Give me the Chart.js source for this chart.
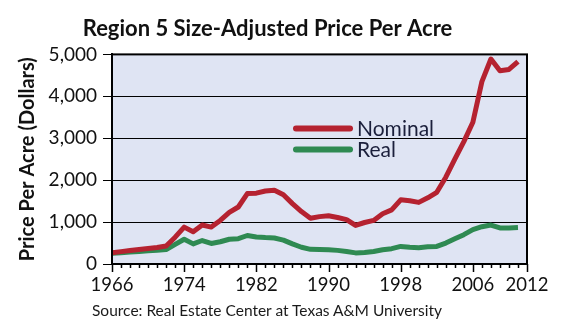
<!DOCTYPE html>
<html>
<head>
<meta charset="utf-8">
<title>Region 5 Size-Adjusted Price Per Acre</title>
<script src="https://cdn.jsdelivr.net/npm/chart.js@4.4.1/dist/chart.umd.min.js"></script>
<style>
  html, body { margin: 0; padding: 0; background: #fff; }
  #wrap { position: relative; width: 561px; height: 327px; }
  #source {
    position: absolute; left: 92px; top: 301px;
    font: 15.5px Lato, sans-serif; color: #1a1a1a; white-space: nowrap;
  }
</style>
</head>
<body>
<div id="wrap">
  <canvas id="priceChart" width="561" height="327"></canvas>
  <div id="source">Source: Real Estate Center at Texas A&amp;M University</div>
</div>
<script>
'use strict';

/* ── Data ─────────────────────────────────── */
const YEARS = [
  1966, 1967, 1968, 1969, 1970, 1971, 1972, 1973, 1974, 1975,
  1976, 1977, 1978, 1979, 1980, 1981, 1982, 1983, 1984, 1985,
  1986, 1987, 1988, 1989, 1990, 1991, 1992, 1993, 1994, 1995,
  1996, 1997, 1998, 1999, 2000, 2001, 2002, 2003, 2004, 2005,
  2006, 2007, 2008, 2009, 2010, 2011,
];

// Nominal dollars per acre
const NOMINAL = [
  265, 295, 320, 345, 370, 395, 430, 640, 880, 770,
  930, 880, 1040, 1230, 1360, 1680, 1690, 1740, 1760, 1650,
  1440, 1250, 1090, 1130, 1150, 1110, 1060, 920, 990, 1040,
  1200, 1290, 1530, 1510, 1470, 1580, 1710, 2070, 2500, 2920,
  3380, 4350, 4890, 4610, 4640, 4830,
];

// Real (inflation-adjusted) dollars per acre
const REAL = [
  255, 270, 285, 300, 315, 330, 345, 470, 590, 480,
  560, 490, 530, 590, 605, 680, 645, 630, 620, 570,
  480, 400, 350, 345, 340, 325, 300, 265, 275, 300,
  340, 365, 420, 400, 390, 410, 420, 500, 600, 700,
  820, 890, 930, 860, 860, 870,
];

const X_LABEL_YEARS = [1966, 1974, 1982, 1990, 1998, 2006, 2012];

const SERIES = [
  { label: 'Nominal', values: NOMINAL, color: '#b52230' },
  { label: 'Real',    values: REAL,    color: '#2f8a52' },
];

const FONT = 'Lato, sans-serif';
const INK  = '#111111';

/* ── Plugins ──────────────────────────────── */
const plotBackground = {
  id: 'plotBackground',
  beforeDraw(chart) {
    const { ctx, chartArea: a } = chart;
    ctx.save();
    ctx.fillStyle = '#dfe4f3';
    ctx.fillRect(a.left, a.top, a.right - a.left, a.bottom - a.top);
    ctx.restore();
  },
};

// frame round the plot plus yearly tick marks (longer at labelled years)
const frameAndTicks = {
  id: 'frameAndTicks',
  afterDraw(chart) {
    const { ctx, chartArea: a, scales: { x } } = chart;
    ctx.save();
    ctx.strokeStyle = '#000';
    ctx.lineWidth = 2;
    ctx.strokeRect(a.left, a.top, a.right - a.left, a.bottom - a.top);
    ctx.lineWidth = 1.5;
    ctx.beginPath();
    for (let yr = x.min; yr <= x.max; yr++) {
      const px = Math.round(x.getPixelForValue(yr)) + 0.5;
      const len = X_LABEL_YEARS.includes(yr) ? 8 : 4;
      ctx.moveTo(px, a.bottom);
      ctx.lineTo(px, a.bottom + len);
    }
    ctx.stroke();
    ctx.restore();
  },
};

const inlineLegend = {
  id: 'inlineLegend',
  afterDatasetsDraw(chart) {
    const { ctx, chartArea: a } = chart;
    const x0 = a.left + 184, y0 = a.top + 74, gap = 21;
    ctx.save();
    ctx.font = `21px ${FONT}`;
    ctx.textBaseline = 'middle';
    SERIES.forEach((s, i) => {
      const y = y0 + i * gap;
      ctx.strokeStyle = s.color;
      ctx.lineWidth = 6;
      ctx.lineCap = 'round';
      ctx.beginPath();
      ctx.moveTo(x0, y);
      ctx.lineTo(x0 + 54, y);
      ctx.stroke();
      ctx.fillStyle = '#1b1f3b';
      ctx.fillText(s.label, x0 + 61, y + 1);
    });
    ctx.restore();
  },
};

/* ── Chart ────────────────────────────────── */
function initPriceChart() {
  const canvas = document.getElementById('priceChart');

  new Chart(canvas.getContext('2d'), {
    type: 'line',
    data: {
      datasets: SERIES.map(s => ({
        label          : s.label,
        data           : YEARS.map((yr, i) => ({ x: yr, y: s.values[i] })),
        borderColor    : s.color,
        borderWidth    : 5,
        borderJoinStyle: 'round',
        pointRadius    : 0,
        tension        : 0,
      })),
    },
    plugins: [plotBackground, inlineLegend, frameAndTicks],
    options: {
      responsive: false,
      animation : false,
      layout: { padding: { left: 8, right: 34, top: 8, bottom: 23 } },
      plugins: {
        legend : { display: false },
        tooltip: { enabled: false },
        title: {
          display: true,
          text   : 'Region 5 Size-Adjusted Price Per Acre',
          color  : INK,
          font   : { family: FONT, size: 22, weight: 'bold' },
          padding: { top: 8, bottom: 12 },
        },
      },
      scales: {
        x: {
          type: 'linear',
          min : 1966,
          max : 2012,
          afterBuildTicks: scale => { scale.ticks = X_LABEL_YEARS.map(v => ({ value: v })); },
          afterFit: scale => { scale.height = 40; },
          grid: {
            drawOnChartArea: false,
            drawTicks      : true,
            tickLength     : 8,
            tickColor      : 'rgba(0,0,0,0)',
          },
          border: { display: false },
          ticks: {
            autoSkip   : false,
            maxRotation: 0,
            padding    : 2,
            color      : INK,
            font       : { family: FONT, size: 18.5 },
            callback   : v => String(v),
          },
        },
        y: {
          min: 0,
          max: 5000,
          afterFit: scale => { scale.width = 104; },
          grid: {
            color     : c => (c.tick.value % 1000 === 0 ? '#000' : '#9c9c9c'),
            lineWidth : 1,
            tickLength: 9,
            tickColor : c => (c.tick.value % 1000 === 0 ? '#000' : 'rgba(0,0,0,0)'),
          },
          border: { display: true, color: '#000', width: 2 },
          ticks: {
            stepSize: 500,
            padding : 6,
            color   : INK,
            font    : { family: FONT, size: 19 },
            callback: v => (v % 1000 === 0 ? v.toLocaleString('en-US') : ''),
          },
          title: {
            display: true,
            text   : 'Price Per Acre (Dollars)',
            color  : INK,
            font   : { family: FONT, size: 20, weight: 'bold' },
            padding: { top: 8, bottom: 0 },
          },
        },
      },
    },
  });
}

initPriceChart();
</script>
</body>
</html>
